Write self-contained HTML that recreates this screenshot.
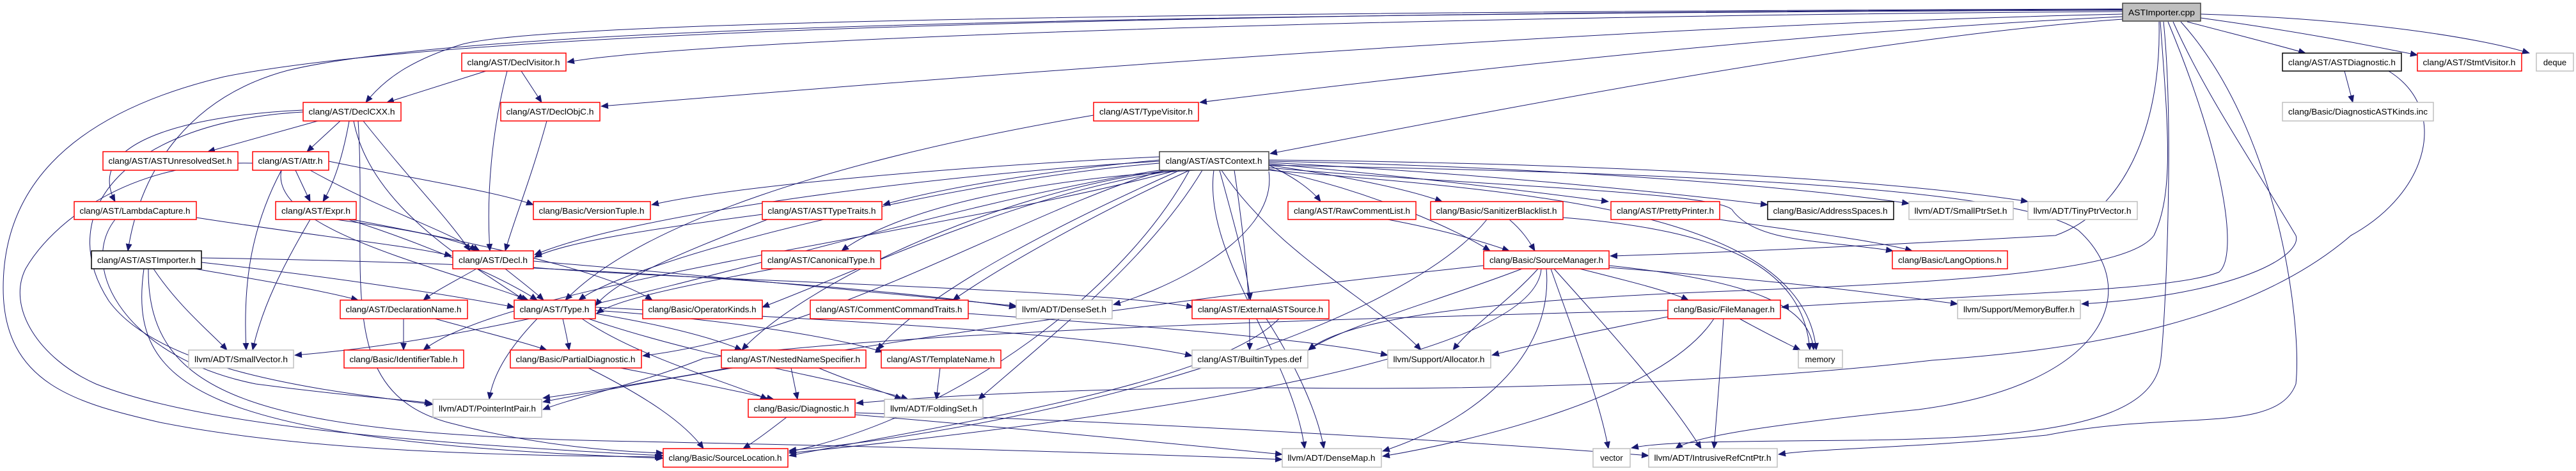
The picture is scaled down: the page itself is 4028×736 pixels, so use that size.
<!DOCTYPE html>
<html><head><meta charset="utf-8"><style>
html,body{margin:0;padding:0;background:#fff;}
svg{display:block;}
text{font-family:"Liberation Sans",Arial,sans-serif;font-size:13px;fill:#000;}
.e{fill:none;stroke:#191970;stroke-width:1;marker-end:url(#a);}
.r{fill:#fff;stroke:#ff0000;stroke-width:1.5;}
.k{fill:#fff;stroke:#000;stroke-width:1.5;}
.g{fill:#fff;stroke:#bfbfbf;stroke-width:1.5;}
</style></head><body>
<svg width="4028" height="736" viewBox="0 0 4028 736" xmlns="http://www.w3.org/2000/svg">
<defs><marker id="a" markerUnits="userSpaceOnUse" markerWidth="12" markerHeight="10" refX="11" refY="5" orient="auto"><path d="M0,0 L12,5 L0,10 z" fill="#191970"/></marker></defs>
<g>
<path class="e" d="M3319,18 C2200,25 1100,60 887,97"/>
<path class="e" d="M3319,14 C1500,20 820,40 720,70 C640,95 600,125 572,160"/>
<path class="e" d="M3319,16 C1500,22 700,50 450,110 C300,150 220,260 200,392"/>
<path class="e" d="M3319,15 C1500,20 650,60 350,120 C100,180 5,300 5,450 C5,600 120,630 250,660 C500,710 850,712 1035,714"/>
<path class="e" d="M3319,22 C2500,40 1500,120 940,166"/>
<path class="e" d="M3319,26 C2800,50 2200,120 1876,160"/>
<path class="e" d="M3319,30 C2900,60 2300,180 1986,240"/>
<path class="e" d="M3420,34 C3500,55 3560,70 3605,83"/>
<path class="e" d="M3441,28 C3600,50 3700,70 3780,86"/>
<path class="e" d="M3441,22 C3700,30 3880,60 3955,83"/>
<path class="e" d="M3383,34 C3400,200 3386,500 3379,560 C3370,660 3200,685 2900,688 C2700,690 2600,690 2551,700"/>
<path class="e" d="M3390,34 C3480,250 3500,400 3470,425 C3400,455 3100,460 2786,480"/>
<path class="e" d="M3398,34 C3450,150 3520,250 3590,368 C3600,400 3500,460 3255,475"/>
<path class="e" d="M3410,34 C3560,200 3600,500 3590,600 C3560,680 3400,640 3200,680 C3000,700 2850,700 2781,710"/>
<path class="e" d="M3378,34 C3390,200 3400,300 3368,368 C3330,420 3100,440 2700,455 C2300,470 2100,500 2046,547"/>
<path class="e" d="M3376,34 C3380,200 3320,330 3214,368 C3000,380 2700,395 2518,400"/>
<path class="e" d="M3666,111 L3679,160"/>
<path class="e" d="M3735,111 C3830,170 3800,300 3676,368 C3500,520 3200,550 3021,563 C2700,600 2300,610 2014,606 C1700,605 1450,620 1339,630"/>
<path class="e" d="M760,111 L605,160"/>
<path class="e" d="M815,111 L847,160"/>
<path class="e" d="M793,111 C770,200 760,300 766,392"/>
<path class="e" d="M497,189 L325,237"/>
<path class="e" d="M532,189 L480,237"/>
<path class="e" d="M546,189 C535,250 520,290 505,315"/>
<path class="e" d="M568,189 C640,280 700,340 735,392"/>
<path class="e" d="M474,172 C300,180 130,220 180,315"/>
<path class="e" d="M474,175 C200,190 80,330 170,470 C250,580 500,610 677,632"/>
<path class="e" d="M553,189 C580,330 750,420 820,469"/>
<path class="e" d="M560,189 C575,430 520,610 700,660 C850,700 980,706 1037,708"/>
<path class="e" d="M855,189 C830,280 805,340 790,392"/>
<path class="e" d="M462,266 L485,315"/>
<path class="e" d="M485,266 C600,330 700,360 745,392"/>
<path class="e" d="M440,266 C420,360 700,420 826,469"/>
<path class="e" d="M514,252 C650,280 780,300 834,320"/>
<path class="e" d="M440,266 C390,360 380,450 385,547"/>
<path class="e" d="M395,255 C200,250 80,350 40,420 C10,480 60,560 150,600 C300,660 600,690 1037,712"/>
<path class="e" d="M525,343 C650,360 720,375 750,392"/>
<path class="e" d="M545,343 C660,380 780,430 840,469"/>
<path class="e" d="M485,343 C440,420 410,480 395,547"/>
<path class="e" d="M550,343 C800,390 960,430 1020,469"/>
<path class="e" d="M307,340 C500,370 650,385 706,400"/>
<path class="e" d="M180,343 C120,420 200,560 400,600 C550,620 640,625 675,630"/>
<path class="e" d="M1192,335 C1000,360 880,380 836,402"/>
<path class="e" d="M1200,343 C1050,400 960,440 931,478"/>
<path class="e" d="M1813,245 C1500,260 1150,290 1019,320"/>
<path class="e" d="M1813,250 C1600,270 1450,300 1381,320"/>
<path class="e" d="M1813,252 C1500,270 1000,330 836,398"/>
<path class="e" d="M1813,255 C1500,280 1000,400 905,469"/>
<path class="e" d="M1870,266 C1600,280 1400,330 1316,392"/>
<path class="e" d="M1840,266 C1600,300 1350,420 1192,480"/>
<path class="e" d="M1860,266 C1700,340 1560,420 1490,469"/>
<path class="e" d="M1830,266 C1550,300 1250,450 1160,547"/>
<path class="e" d="M1845,266 C1700,330 1450,450 1372,547"/>
<path class="e" d="M1984,268 C2000,380 1800,460 1741,476"/>
<path class="e" d="M1907,266 C1930,350 1950,420 1955,469"/>
<path class="e" d="M1880,266 C1800,400 1650,520 1530,624"/>
<path class="e" d="M1860,266 C1760,450 1500,650 1234,706"/>
<path class="e" d="M1898,266 C1880,400 2020,550 2040,701"/>
<path class="e" d="M1984,258 C2020,275 2050,295 2065,315"/>
<path class="e" d="M1984,258 C2100,275 2200,295 2255,315"/>
<path class="e" d="M1984,256 C2200,275 2400,300 2515,315"/>
<path class="e" d="M1984,254 C2300,270 2600,300 2764,320"/>
<path class="e" d="M1984,252 C2400,260 2800,290 2985,318"/>
<path class="e" d="M1984,250 C2500,255 2950,280 3171,315"/>
<path class="e" d="M1984,262 C2300,290 2700,300 2710,330 C2750,380 2850,375 2960,392"/>
<path class="e" d="M1984,264 C2150,300 2280,360 2330,392"/>
<path class="e" d="M1930,266 C1950,400 1955,480 1954,547"/>
<path class="e" d="M1910,266 C2000,400 2150,470 2222,547"/>
<path class="e" d="M1984,266 C2400,300 2820,330 2840,547"/>
<path class="e" d="M1984,258 C2600,270 3150,290 3250,360 C3350,450 3300,600 3000,640 C2800,660 2650,680 2620,701"/>
<path class="e" d="M1813,266 C1400,330 900,520 461,555"/>
<path class="e" d="M1840,266 C1500,360 800,440 662,547"/>
<path class="e" d="M1820,266 C1600,330 1300,520 1005,556"/>
<path class="e" d="M1710,180 C1300,250 1000,350 884,469"/>
<path class="e" d="M1210,420 C1050,450 960,470 933,490"/>
<path class="e" d="M1514,490 C1800,510 2050,530 2170,555"/>
<path class="e" d="M1980,498 C2020,560 2060,640 2070,701"/>
<path class="e" d="M2000,498 C1900,600 1500,660 1234,712"/>
<path class="e" d="M2170,343 C2260,360 2320,378 2360,392"/>
<path class="e" d="M2360,343 C2380,360 2390,375 2400,392"/>
<path class="e" d="M2325,343 C2200,500 1700,660 1234,704"/>
<path class="e" d="M2444,340 C2700,360 2820,420 2830,547"/>
<path class="e" d="M2689,343 C2800,360 2930,375 2990,392"/>
<path class="e" d="M2470,420 C2550,440 2610,455 2640,469"/>
<path class="e" d="M2405,420 C2360,470 2300,510 2272,547"/>
<path class="e" d="M2516,415 C2750,440 2830,480 2836,547"/>
<path class="e" d="M2418,420 C2430,560 2300,660 2162,705"/>
<path class="e" d="M2425,420 C2460,520 2500,620 2515,701"/>
<path class="e" d="M2430,420 C2520,520 2610,620 2660,701"/>
<path class="e" d="M2516,418 C2800,440 2950,460 3061,475"/>
<path class="e" d="M2320,415 C1800,470 1200,560 849,628"/>
<path class="e" d="M2410,420 C2400,560 1800,650 1234,708"/>
<path class="e" d="M2380,420 C2250,470 2100,510 2046,547"/>
<path class="e" d="M2608,495 C2480,520 2390,540 2333,555"/>
<path class="e" d="M2720,498 C2760,520 2790,535 2815,547"/>
<path class="e" d="M2680,498 C2600,620 2300,690 2162,713"/>
<path class="e" d="M2695,498 C2690,580 2684,650 2680,701"/>
<path class="e" d="M2608,485 C2000,500 1400,520 1100,560 C1000,600 900,620 849,640"/>
<path class="e" d="M631,498 L631,547"/>
<path class="e" d="M680,498 C760,520 820,535 855,547"/>
<path class="e" d="M305,420 C420,440 510,455 560,469"/>
<path class="e" d="M315,410 C500,430 700,460 804,480"/>
<path class="e" d="M240,420 C280,480 330,520 355,547"/>
<path class="e" d="M315,403 C800,410 1300,440 1589,480"/>
<path class="e" d="M225,420 C200,600 300,690 1037,716"/>
<path class="e" d="M232,420 C230,620 400,680 1000,690 C1500,700 1800,710 2005,718"/>
<path class="e" d="M745,420 C710,440 680,455 662,469"/>
<path class="e" d="M790,420 C815,440 835,455 850,469"/>
<path class="e" d="M834,408 C1100,430 1400,460 1589,478"/>
<path class="e" d="M834,418 C1100,440 1700,450 1866,480"/>
<path class="e" d="M880,498 C885,520 888,535 890,547"/>
<path class="e" d="M840,498 C790,550 770,590 765,624"/>
<path class="e" d="M931,490 C1050,510 1120,530 1160,547"/>
<path class="e" d="M931,485 C1150,500 1320,530 1380,550"/>
<path class="e" d="M910,498 C1000,560 1150,600 1200,624"/>
<path class="e" d="M920,498 C1100,560 1350,600 1420,624"/>
<path class="e" d="M931,480 C1300,500 1700,520 1864,556"/>
<path class="e" d="M970,575 C1100,600 1170,615 1210,624"/>
<path class="e" d="M920,575 C1010,620 1070,660 1100,701"/>
<path class="e" d="M1237,575 L1247,624"/>
<path class="e" d="M1280,575 C1340,600 1390,615 1410,624"/>
<path class="e" d="M1140,575 C1000,600 900,615 849,622"/>
<path class="e" d="M1470,575 L1464,624"/>
<path class="e" d="M1230,652 C1200,675 1180,690 1162,701"/>
<path class="e" d="M1337,648 C1600,670 1850,695 2005,710"/>
<path class="e" d="M1337,645 C1800,660 2300,690 2578,712"/>
</g>
<g>
<rect class="k" x="3319" y="5" width="122" height="28" style="fill:#bfbfbf;stroke:#404040"/><text x="3380" y="24" text-anchor="middle" textLength="104" lengthAdjust="spacingAndGlyphs">ASTImporter.cpp</text>
<rect class="k" x="3569" y="83" width="186" height="28"/><text x="3662" y="102" text-anchor="middle" textLength="168" lengthAdjust="spacingAndGlyphs">clang/AST/ASTDiagnostic.h</text>
<rect class="r" x="3780" y="83" width="163" height="28"/><text x="3861" y="102" text-anchor="middle" textLength="145" lengthAdjust="spacingAndGlyphs">clang/AST/StmtVisitor.h</text>
<rect class="g" x="3966" y="83" width="58" height="28"/><text x="3995" y="102" text-anchor="middle">deque</text>
<rect class="g" x="3569" y="160" width="236" height="29"/><text x="3687" y="179" text-anchor="middle" textLength="218" lengthAdjust="spacingAndGlyphs">clang/Basic/DiagnosticASTKinds.inc</text>
<rect class="r" x="722" y="83" width="163" height="28"/><text x="803" y="102" text-anchor="middle" textLength="145" lengthAdjust="spacingAndGlyphs">clang/AST/DeclVisitor.h</text>
<rect class="r" x="474" y="160" width="153" height="29"/><text x="550" y="179" text-anchor="middle" textLength="135" lengthAdjust="spacingAndGlyphs">clang/AST/DeclCXX.h</text>
<rect class="r" x="783" y="160" width="155" height="29"/><text x="860" y="179" text-anchor="middle" textLength="137" lengthAdjust="spacingAndGlyphs">clang/AST/DeclObjC.h</text>
<rect class="r" x="1710" y="160" width="164" height="29"/><text x="1792" y="179" text-anchor="middle" textLength="146" lengthAdjust="spacingAndGlyphs">clang/AST/TypeVisitor.h</text>
<rect class="r" x="161" y="237" width="211" height="29"/><text x="266" y="256" text-anchor="middle" textLength="193" lengthAdjust="spacingAndGlyphs">clang/AST/ASTUnresolvedSet.h</text>
<rect class="r" x="395" y="237" width="119" height="29"/><text x="454" y="256" text-anchor="middle" textLength="101" lengthAdjust="spacingAndGlyphs">clang/AST/Attr.h</text>
<rect class="k" x="1813" y="237" width="171" height="29" style="stroke:#404040"/><text x="1898" y="256" text-anchor="middle" textLength="151" lengthAdjust="spacingAndGlyphs">clang/AST/ASTContext.h</text>
<rect class="r" x="116" y="315" width="191" height="28"/><text x="211" y="334" text-anchor="middle" textLength="173" lengthAdjust="spacingAndGlyphs">clang/AST/LambdaCapture.h</text>
<rect class="r" x="431" y="315" width="126" height="28"/><text x="494" y="334" text-anchor="middle" textLength="108" lengthAdjust="spacingAndGlyphs">clang/AST/Expr.h</text>
<rect class="r" x="834" y="315" width="183" height="28"/><text x="925" y="334" text-anchor="middle" textLength="165" lengthAdjust="spacingAndGlyphs">clang/Basic/VersionTuple.h</text>
<rect class="r" x="1192" y="315" width="187" height="28"/><text x="1285" y="334" text-anchor="middle" textLength="169" lengthAdjust="spacingAndGlyphs">clang/AST/ASTTypeTraits.h</text>
<rect class="r" x="2014" y="315" width="200" height="28"/><text x="2114" y="334" text-anchor="middle" textLength="182" lengthAdjust="spacingAndGlyphs">clang/AST/RawCommentList.h</text>
<rect class="r" x="2237" y="315" width="207" height="28"/><text x="2340" y="334" text-anchor="middle" textLength="189" lengthAdjust="spacingAndGlyphs">clang/Basic/SanitizerBlacklist.h</text>
<rect class="r" x="2519" y="315" width="170" height="28"/><text x="2604" y="334" text-anchor="middle" textLength="152" lengthAdjust="spacingAndGlyphs">clang/AST/PrettyPrinter.h</text>
<rect class="k" x="2764" y="315" width="197" height="28"/><text x="2862" y="334" text-anchor="middle" textLength="179" lengthAdjust="spacingAndGlyphs">clang/Basic/AddressSpaces.h</text>
<rect class="g" x="2985" y="315" width="163" height="28"/><text x="3066" y="334" text-anchor="middle" textLength="145" lengthAdjust="spacingAndGlyphs">llvm/ADT/SmallPtrSet.h</text>
<rect class="g" x="3171" y="315" width="171" height="28"/><text x="3256" y="334" text-anchor="middle" textLength="153" lengthAdjust="spacingAndGlyphs">llvm/ADT/TinyPtrVector.h</text>
<rect class="k" x="143" y="392" width="172" height="28"/><text x="229" y="411" text-anchor="middle" textLength="154" lengthAdjust="spacingAndGlyphs">clang/AST/ASTImporter.h</text>
<rect class="r" x="708" y="392" width="126" height="28"/><text x="771" y="411" text-anchor="middle" textLength="108" lengthAdjust="spacingAndGlyphs">clang/AST/Decl.h</text>
<rect class="r" x="1191" y="392" width="186" height="28"/><text x="1284" y="411" text-anchor="middle" textLength="168" lengthAdjust="spacingAndGlyphs">clang/AST/CanonicalType.h</text>
<rect class="r" x="2320" y="392" width="196" height="28"/><text x="2418" y="411" text-anchor="middle" textLength="178" lengthAdjust="spacingAndGlyphs">clang/Basic/SourceManager.h</text>
<rect class="r" x="2959" y="392" width="180" height="28"/><text x="3049" y="411" text-anchor="middle" textLength="162" lengthAdjust="spacingAndGlyphs">clang/Basic/LangOptions.h</text>
<rect class="r" x="532" y="469" width="199" height="29"/><text x="631" y="488" text-anchor="middle" textLength="181" lengthAdjust="spacingAndGlyphs">clang/AST/DeclarationName.h</text>
<rect class="r" x="804" y="469" width="127" height="29"/><text x="867" y="488" text-anchor="middle" textLength="109" lengthAdjust="spacingAndGlyphs">clang/AST/Type.h</text>
<rect class="r" x="1005" y="469" width="187" height="29"/><text x="1098" y="488" text-anchor="middle" textLength="169" lengthAdjust="spacingAndGlyphs">clang/Basic/OperatorKinds.h</text>
<rect class="r" x="1267" y="469" width="247" height="29"/><text x="1390" y="488" text-anchor="middle" textLength="229" lengthAdjust="spacingAndGlyphs">clang/AST/CommentCommandTraits.h</text>
<rect class="g" x="1589" y="469" width="150" height="29"/><text x="1664" y="488" text-anchor="middle" textLength="132" lengthAdjust="spacingAndGlyphs">llvm/ADT/DenseSet.h</text>
<rect class="r" x="1864" y="469" width="214" height="29"/><text x="1971" y="488" text-anchor="middle" textLength="196" lengthAdjust="spacingAndGlyphs">clang/AST/ExternalASTSource.h</text>
<rect class="r" x="2608" y="469" width="176" height="29"/><text x="2696" y="488" text-anchor="middle" textLength="158" lengthAdjust="spacingAndGlyphs">clang/Basic/FileManager.h</text>
<rect class="g" x="3061" y="469" width="192" height="29"/><text x="3157" y="488" text-anchor="middle" textLength="174" lengthAdjust="spacingAndGlyphs">llvm/Support/MemoryBuffer.h</text>
<rect class="g" x="295" y="547" width="164" height="28"/><text x="377" y="566" text-anchor="middle" textLength="146" lengthAdjust="spacingAndGlyphs">llvm/ADT/SmallVector.h</text>
<rect class="r" x="538" y="547" width="187" height="28"/><text x="631" y="566" text-anchor="middle" textLength="169" lengthAdjust="spacingAndGlyphs">clang/Basic/IdentifierTable.h</text>
<rect class="r" x="798" y="547" width="205" height="28"/><text x="900" y="566" text-anchor="middle" textLength="187" lengthAdjust="spacingAndGlyphs">clang/Basic/PartialDiagnostic.h</text>
<rect class="r" x="1128" y="547" width="226" height="28"/><text x="1241" y="566" text-anchor="middle" textLength="208" lengthAdjust="spacingAndGlyphs">clang/AST/NestedNameSpecifier.h</text>
<rect class="r" x="1378" y="547" width="187" height="28"/><text x="1471" y="566" text-anchor="middle" textLength="169" lengthAdjust="spacingAndGlyphs">clang/AST/TemplateName.h</text>
<rect class="g" x="1864" y="547" width="181" height="28"/><text x="1954" y="566" text-anchor="middle" textLength="163" lengthAdjust="spacingAndGlyphs">clang/AST/BuiltinTypes.def</text>
<rect class="g" x="2170" y="547" width="161" height="28"/><text x="2250" y="566" text-anchor="middle" textLength="143" lengthAdjust="spacingAndGlyphs">llvm/Support/Allocator.h</text>
<rect class="g" x="2812" y="547" width="69" height="28"/><text x="2846" y="566" text-anchor="middle">memory</text>
<rect class="g" x="677" y="624" width="170" height="28"/><text x="762" y="643" text-anchor="middle" textLength="152" lengthAdjust="spacingAndGlyphs">llvm/ADT/PointerIntPair.h</text>
<rect class="r" x="1170" y="624" width="167" height="28"/><text x="1253" y="643" text-anchor="middle" textLength="149" lengthAdjust="spacingAndGlyphs">clang/Basic/Diagnostic.h</text>
<rect class="g" x="1383" y="624" width="154" height="28"/><text x="1460" y="643" text-anchor="middle" textLength="136" lengthAdjust="spacingAndGlyphs">llvm/ADT/FoldingSet.h</text>
<rect class="r" x="1037" y="701" width="195" height="29"/><text x="1134" y="720" text-anchor="middle" textLength="177" lengthAdjust="spacingAndGlyphs">clang/Basic/SourceLocation.h</text>
<rect class="g" x="2005" y="701" width="155" height="29"/><text x="2082" y="720" text-anchor="middle" textLength="137" lengthAdjust="spacingAndGlyphs">llvm/ADT/DenseMap.h</text>
<rect class="g" x="2491" y="701" width="58" height="29"/><text x="2520" y="720" text-anchor="middle">vector</text>
<rect class="g" x="2578" y="701" width="201" height="29"/><text x="2678" y="720" text-anchor="middle" textLength="183" lengthAdjust="spacingAndGlyphs">llvm/ADT/IntrusiveRefCntPtr.h</text>
</g>
</svg>
</body></html>
